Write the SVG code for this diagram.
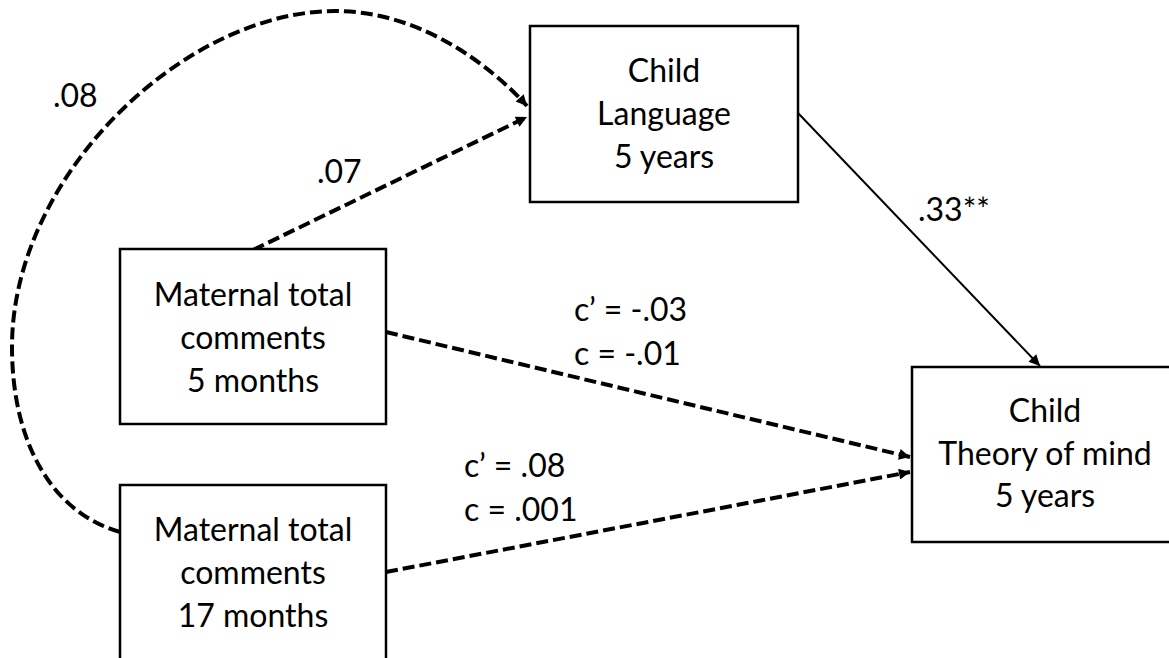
<svg xmlns="http://www.w3.org/2000/svg" width="1169" height="658" viewBox="0 0 1169 658">
  <style>
    .box { fill: #ffffff; stroke: #000000; stroke-width: 2.5; }
    .lbl { font-family: Lato, "Liberation Sans", sans-serif; font-size: 32px; fill: #000000; }
    .mid { text-anchor: middle; }
    .dash { fill: none; stroke: #000000; stroke-width: 4; stroke-dasharray: 12 5; }
    .solid { fill: none; stroke: #000000; stroke-width: 2; }
  </style>
  <defs>
    <marker id="head" viewBox="0 0 10 10" refX="10" refY="5" markerUnits="userSpaceOnUse" markerWidth="13" markerHeight="11" orient="auto">
      <path d="M0,0 L10,5 L0,10 Z" fill="#000000"/>
    </marker>
  </defs>
  <rect width="1169" height="658" fill="#ffffff"/>

  <!-- paths between the variables -->
  <g id="connectors">
    <path class="dash" d="M120,532 C50,512 12,440 12,347 C12,175 185,11 335,11 C420,11 490,65 527,106" marker-end="url(#head)"/>
    <path class="dash" d="M253,250 L527,117" marker-end="url(#head)"/>
    <path class="dash" d="M386,332 L910,457" marker-end="url(#head)"/>
    <path class="dash" d="M386,572 L910,472" marker-end="url(#head)"/>
    <path class="solid" d="M798,113 L1040,366" marker-end="url(#head)"/>
  </g>

  <!-- path coefficients -->
  <g id="edge-labels" class="lbl">
    <text x="53" y="107">.08</text>
    <text x="317" y="183">.07</text>
    <text x="918" y="221">.33**</text>
    <text x="574" y="321">c’ = -.03</text>
    <text x="574" y="365">c = -.01</text>
    <text x="464" y="477">c’ = .08</text>
    <text x="464" y="521">c = .001</text>
  </g>

  <g id="child-language">
    <rect class="box" x="530" y="26" width="268" height="176"/>
    <text class="lbl mid" x="664" y="82">Child</text>
    <text class="lbl mid" x="664" y="125">Language</text>
    <text class="lbl mid" x="664" y="168">5 years</text>
  </g>

  <g id="maternal-5m">
    <rect class="box" x="120" y="249" width="266" height="175"/>
    <text class="lbl mid" x="253" y="306">Maternal total</text>
    <text class="lbl mid" x="253" y="349">comments</text>
    <text class="lbl mid" x="253" y="392">5 months</text>
  </g>

  <g id="maternal-17m">
    <rect class="box" x="120" y="485" width="266" height="185"/>
    <text class="lbl mid" x="253" y="541">Maternal total</text>
    <text class="lbl mid" x="253" y="584">comments</text>
    <text class="lbl mid" x="253" y="627">17 months</text>
  </g>

  <g id="child-tom">
    <rect class="box" x="912" y="367" width="266" height="175"/>
    <text class="lbl mid" x="1045" y="422">Child</text>
    <text class="lbl mid" x="1045" y="465">Theory of mind</text>
    <text class="lbl mid" x="1045" y="507">5 years</text>
  </g>
</svg>
